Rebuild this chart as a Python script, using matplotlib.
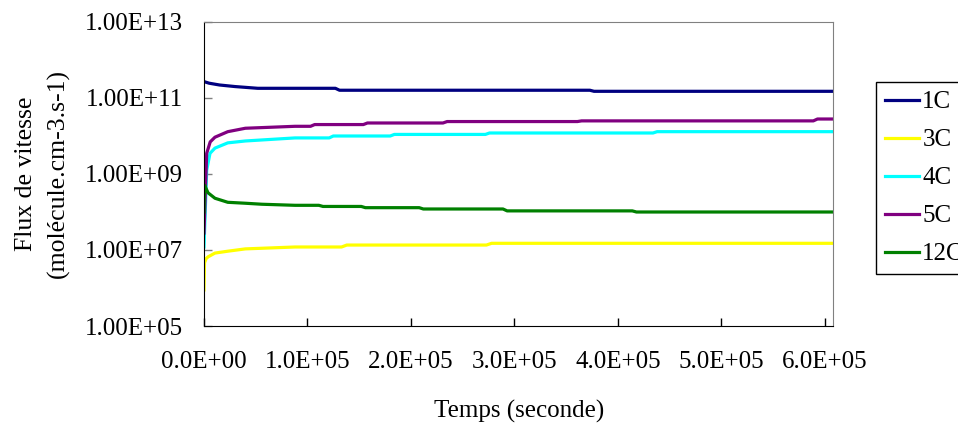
import matplotlib
matplotlib.use("Agg")
import matplotlib.pyplot as plt
from matplotlib.ticker import FixedLocator, FuncFormatter, NullLocator

plt.rcParams['font.family'] = ['Liberation Serif', 'DejaVu Serif']

# Time (s) and flux values
t_1c = [0, 5e3, 1.5e4, 3e4, 5.2e4, 1.27e5, 1.31e5, 3.73e5, 3.77e5, 6.08e5]
v_1c = [2.7e11, 2.45e11, 2.2e11, 2.0e11, 1.8e11, 1.8e11, 1.6e11, 1.6e11, 1.5e11, 1.5e11]

t_3c = [0, 500, 2e3, 3.9e3, 1.06e4, 2.3e4, 4.0e4, 8.8e4, 1.33e5, 1.38e5, 2.73e5, 2.78e5, 6.08e5]
v_3c = [8.9e5, 4.6e6, 5.9e6, 6.6e6, 8.3e6, 9.3e6, 1.07e7, 1.2e7, 1.2e7, 1.35e7, 1.35e7, 1.5e7, 1.5e7]

t_4c = [0, 2.6e3, 5.8e3, 1.06e4, 2.3e4, 4.0e4, 8.8e4, 1.21e5, 1.25e5,
        1.80e5, 1.84e5, 2.72e5, 2.76e5, 4.34e5, 4.38e5, 6.08e5]
v_4c = [1.2e7, 1.26e9, 3.5e9, 4.8e9, 6.6e9, 7.4e9, 8.9e9, 8.9e9, 1.0e10,
        1.0e10, 1.1e10, 1.1e10, 1.2e10, 1.2e10, 1.3e10, 1.3e10]

t_5c = [0, 2.6e3, 6e3, 1.06e4, 2.3e4, 4.0e4, 8.8e4, 1.03e5, 1.07e5, 1.54e5, 1.58e5,
        2.31e5, 2.35e5, 3.61e5, 3.65e5, 5.89e5, 5.93e5, 6.08e5]
v_5c = [2.8e7, 3.5e9, 7.0e9, 9.3e9, 1.3e10, 1.6e10, 1.8e10, 1.8e10, 2.0e10, 2.0e10, 2.2e10,
        2.2e10, 2.4e10, 2.4e10, 2.5e10, 2.5e10, 2.8e10, 2.8e10]

t_12c = [0, 500, 3.9e3, 1.06e4, 2.3e4, 4.0e4, 5.6e4, 8.8e4, 1.11e5, 1.15e5,
         1.52e5, 1.56e5, 2.08e5, 2.12e5, 2.89e5, 2.93e5, 4.14e5, 4.18e5, 6.08e5]
v_12c = [1.0e8, 5.1e8, 3.2e8, 2.3e8, 1.8e8, 1.7e8, 1.6e8, 1.5e8, 1.5e8, 1.4e8,
         1.4e8, 1.3e8, 1.3e8, 1.2e8, 1.2e8, 1.07e8, 1.07e8, 1.0e8, 1.0e8]

labels = ['1C', '3C', '4C', '5C', '12C']
colors = ['#000080', '#FFFF00', '#00FFFF', '#800080', '#008000']
series = [(t_1c, v_1c), (t_3c, v_3c), (t_4c, v_4c), (t_5c, v_5c), (t_12c, v_12c)]

y_ticks = [1e5, 1e7, 1e9, 1e11, 1e13]
x_ticks = [0, 1e5, 2e5, 3e5, 4e5, 5e5, 6e5]

fig = plt.figure(figsize=(9.58, 4.23), dpi=100)
ax = fig.add_axes([204/958, 1-326/423, (833-204)/958, (326-22)/423])

lines = []
for (t, v), c, lab in zip(series, colors, labels):
    ln, = ax.plot(t, v, color=c, lw=2.3, label=lab, solid_joinstyle='round')
    lines.append(ln)

ax.set_yscale('log')
ax.set_ylim(1e5, 1e13)
ax.set_xlim(0, 6.08e5)
ax.yaxis.set_major_locator(FixedLocator(y_ticks))
ax.yaxis.set_minor_locator(NullLocator())
ax.yaxis.set_major_formatter(FuncFormatter(lambda v, p: f"{v:.2E}"))
ax.xaxis.set_major_locator(FixedLocator(x_ticks))
ax.xaxis.set_major_formatter(FuncFormatter(lambda v, p: f"{v:.1E}"))

ax.tick_params(axis='y', direction='in', length=6, width=1, color='#808080',
               labelsize=18, pad=15)
ax.tick_params(axis='x', direction='in', length=6, width=1, color='black',
               labelsize=18, pad=18)
for side in ['top', 'right']:
    ax.spines[side].set_color('#808080')
ax.spines['left'].set_color('black')
ax.spines['bottom'].set_color('black')

fig.text(42/958, 1-174/423, "Flux de vitesse\n(molécule.cm-3.s-1)", rotation=90,
         ha='center', va='center', fontsize=18.5, linespacing=1.55)
fig.text(519/958, 1-411/423, "Temps (seconde)", ha='center', va='center', fontsize=18)

leg = fig.legend(handles=lines, loc='upper left', bbox_to_anchor=(876/958, 1-82/423),
                 fontsize=18, frameon=True, fancybox=False, framealpha=1,
                 edgecolor='black', handlelength=1.35, handletextpad=0.15,
                 labelspacing=0.62, borderpad=0.35, borderaxespad=0)
leg.get_frame().set_linewidth(1)

fig.savefig("out.png", dpi=100)
